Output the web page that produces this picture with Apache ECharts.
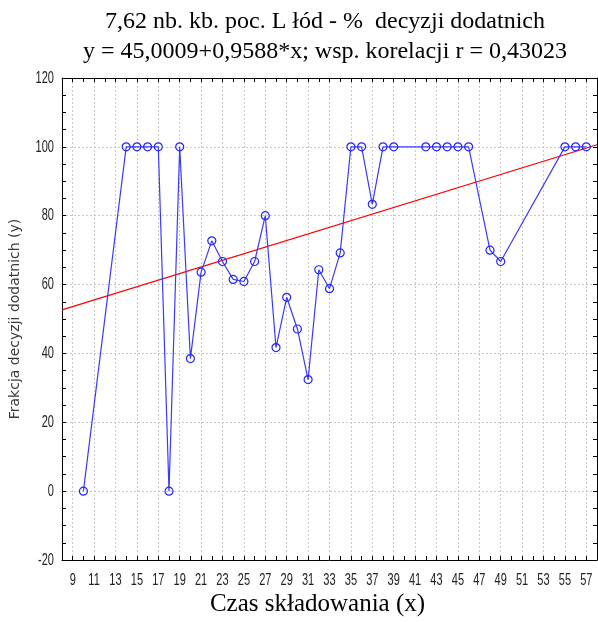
<!DOCTYPE html>
<html>
<head>
<meta charset="utf-8">
<script src="https://cdn.jsdelivr.net/npm/echarts@6/dist/echarts.min.js"></script>
<style>
  html, body { margin: 0; padding: 0; background: #fff; }
  #chart { width: 598px; height: 622px; }
</style>
</head>
<body>
<div id="chart"></div>
<script>
// Storage time (x) and share of positive decisions in % (y)
const storageTime = [10, 14, 15, 16, 17, 18, 19, 20, 21, 22, 23, 24, 25, 26, 27, 28, 29, 30, 31, 32, 33, 34, 35, 36, 37, 38, 39, 42, 43, 44, 45, 46, 48, 49, 55, 56, 57];
const positiveShare = [0, 100, 100, 100, 100, 0, 100, 38.5, 63.6, 72.7, 66.7, 61.5, 60.9, 66.7, 80, 41.7, 56.3, 47.1, 32.4, 64.3, 58.8, 69.2, 100, 100, 83.3, 100, 100, 100, 100, 100, 100, 100, 70, 66.7, 100, 100, 100];

// Linear fit coefficients (from the title)
const fitIntercept = 45.0009;
const fitSlope = 0.9588;

// Axis ranges and the tick labels that are printed
const xRange = [8, 58];
const yRange = [-20, 120];
const xTickLabels = [9, 11, 13, 15, 17, 19, 21, 23, 25, 27, 29, 31, 33, 35, 37, 39, 41, 43, 45, 47, 49, 51, 53, 55, 57];
const yTickLabels = [-20, 0, 20, 40, 60, 80, 100, 120];

const serif = "'Liberation Serif', 'Times New Roman', serif";
const sans = "'Liberation Sans', Arial, sans-serif";

const points = storageTime.map((x, i) => [x, positiveShare[i]]);
const fitLine = xRange.map(x => [x, fitIntercept + fitSlope * x]);

// alternate split-line colours so only odd x values get a grid line
const xGridColors = ['rgba(0,0,0,0)', '#c8c8c8'];

const frameAxis = { show: true, onZero: false, lineStyle: { color: '#000', width: 1 } };
const innerTick = { show: true, inside: true, length: 4, lineStyle: { color: '#000' } };

const chart = echarts.init(document.getElementById('chart'), null, { renderer: 'canvas' });
chart.setOption({
  animation: false,
  backgroundColor: '#ffffff',
  title: {
    text: '7,62 nb. kb. poc. L łód - %  decyzji dodatnich\ny = 45,0009+0,9588*x; wsp. korelacji r = 0,43023',
    left: 320,
    top: 2,
    textAlign: 'center',
    textStyle: {
      fontFamily: serif,
      fontWeight: 'normal',
      fontSize: 24,
      lineHeight: 30,
      color: '#000'
    }
  },
  grid: { left: 62, right: 1, top: 78, bottom: 61, containLabel: false },
  xAxis: [
    {
      type: 'value',
      min: xRange[0],
      max: xRange[1],
      interval: 1,
      position: 'bottom',
      name: 'Czas składowania (x)',
      nameLocation: 'middle',
      nameGap: 32,
      nameTextStyle: { fontFamily: serif, fontSize: 25, color: '#000', padding: [0, 24, 0, 0] },
      axisLine: frameAxis,
      axisTick: innerTick,
      axisLabel: { show: false },
      splitLine: { show: true, lineStyle: { color: xGridColors, type: [2, 2], width: 1 } }
    },
    {
      type: 'value',
      min: xRange[0],
      max: xRange[1],
      interval: 1,
      position: 'top',
      axisLine: frameAxis,
      axisTick: innerTick,
      axisLabel: { show: false },
      splitLine: { show: false }
    }
  ],
  yAxis: [
    {
      type: 'value',
      min: yRange[0],
      max: yRange[1],
      interval: 20,
      position: 'left',
      name: 'Frakcja decyzji dodatnich (y)',
      nameLocation: 'middle',
      nameGap: 40,
      nameTextStyle: { fontFamily: "'DejaVu Sans', sans-serif", fontSize: 14, color: '#3a3a3a' },
      axisLine: frameAxis,
      axisTick: innerTick,
      minorTick: { show: true, splitNumber: 4, length: 4, lineStyle: { color: '#000' } },
      axisLabel: { show: false },
      splitLine: { show: true, lineStyle: { color: '#c8c8c8', type: [2, 2], width: 1 } }
    },
    {
      type: 'value',
      min: yRange[0],
      max: yRange[1],
      interval: 20,
      position: 'right',
      axisLine: frameAxis,
      axisTick: innerTick,
      minorTick: { show: true, splitNumber: 4, length: 4, lineStyle: { color: '#000' } },
      axisLabel: { show: false },
      splitLine: { show: false }
    }
  ],
  series: [
    {
      name: 'fit',
      type: 'line',
      data: fitLine,
      symbol: 'none',
      lineStyle: { color: '#ff0000', width: 1.3 },
      z: 2
    },
    {
      name: 'observed',
      type: 'line',
      data: points,
      symbol: 'circle',
      symbolSize: 8,
      itemStyle: { color: 'rgba(255,255,255,0)', borderColor: '#2424ff', borderWidth: 1.2 },
      lineStyle: { color: '#3a3aff', width: 1.2 },
      z: 3
    }
  ]
});

// Tick labels in a tall, condensed face: placed at the axis positions and stretched vertically
function tickText(text, x, y, align) {
  return {
    type: 'text',
    x: x,
    y: y,
    scaleX: 0.85,
    scaleY: 1.33,
    silent: true,
    z: 10,
    style: {
      text: text,
      fontSize: 13,
      fontFamily: sans,
      fill: '#222',
      align: align,
      verticalAlign: 'middle',
      textAlign: align,
      textVerticalAlign: 'middle'
    }
  };
}

const labels = [];
xTickLabels.forEach(v => {
  const px = chart.convertToPixel({ xAxisIndex: 0 }, v);
  labels.push(tickText(String(v), px, 580.5, 'center'));
});
yTickLabels.forEach(v => {
  const py = chart.convertToPixel({ yAxisIndex: 0 }, v);
  labels.push(tickText(String(v), 54, py, 'right'));
});
chart.setOption({ graphic: labels });
</script>
</body>
</html>
